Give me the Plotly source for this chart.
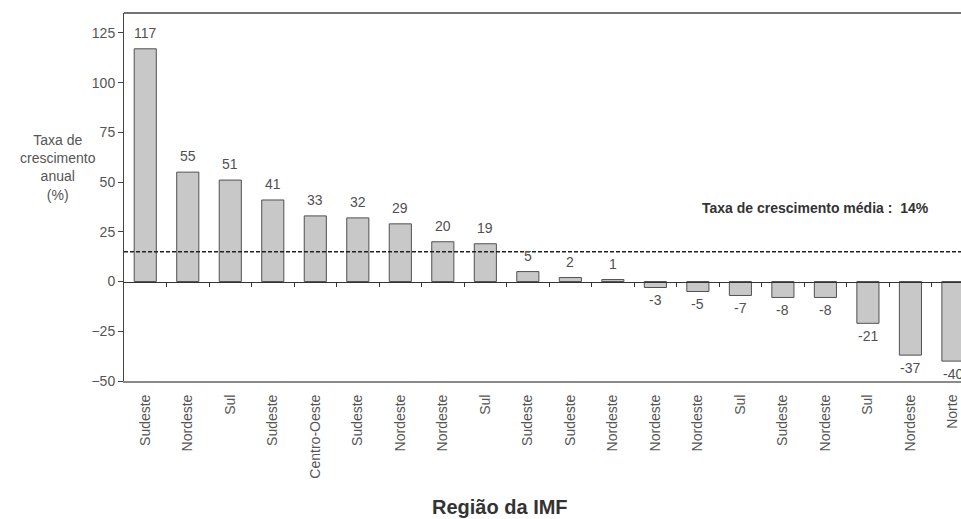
import plotly.graph_objects as go

regions = ["Sudeste", "Nordeste", "Sul", "Sudeste", "Centro-Oeste", "Sudeste", "Nordeste",
           "Nordeste", "Sul", "Sudeste", "Sudeste", "Nordeste", "Nordeste", "Nordeste",
           "Sul", "Sudeste", "Nordeste", "Sul", "Nordeste", "Norte"]
growth = [117, 55, 51, 41, 33, 32, 29, 20, 19, 5, 2, 1, -3, -5, -7, -8, -8, -21, -37, -40]
mean_growth = 14
mean_line_y = 15
y_ticks = [-50, -25, 0, 25, 50, 75, 100, 125]

FONT = "Liberation Sans, Arial, sans-serif"
xs = list(range(len(regions)))
xrange_ = [-0.5, len(regions) - 0.5 - 0.31]

fig = go.Figure()
fig.add_trace(go.Bar(
    x=xs, y=growth,
    marker=dict(color="#c8c8c8", line=dict(color="#505050", width=1)),
    width=0.52, showlegend=False,
))
fig.add_trace(go.Scatter(x=[xrange_[0], xrange_[1]], y=[mean_line_y, mean_line_y],
                         mode="lines", line=dict(color="#222222", width=1.5, dash="4px,2px"),
                         xaxis="x2", showlegend=False, hoverinfo="skip"))

value_labels = [
    dict(x=x, y=v, text=str(v), xref="x", yref="y", showarrow=False,
         xanchor="center", yanchor="middle", yshift=16 if v >= 0 else -12.5,
         font=dict(family=FONT, size=14, color="#505050"))
    for x, v in zip(xs, growth)
]

fig.update_layout(
    width=961, height=519,
    margin=dict(l=124, r=0, t=13, b=138, autoexpand=False),
    plot_bgcolor="white", paper_bgcolor="white",
    font=dict(family=FONT, size=14, color="#555555"),
    xaxis=dict(range=xrange_, tickmode="array", tickvals=xs, ticktext=regions,
               tickangle=-90, showgrid=False, zeroline=False, showline=True,
               linecolor="#8a8a8a", linewidth=2, ticks="", ticklabelstandoff=6,
               automargin=False,
               tickfont=dict(family=FONT, size=14, color="#555555")),
    xaxis2=dict(range=xrange_, overlaying="x", anchor="free", position=50 / 185,
                side="bottom", tickmode="array", tickvals=[i + 0.5 for i in xs[:-1]],
                ticks="outside", ticklen=4, tickcolor="#333333", showticklabels=False,
                automargin=False,
                showline=True, linecolor="#333333", linewidth=1, showgrid=False, zeroline=False),
    yaxis=dict(range=[-50, 135], tickmode="array", tickvals=y_ticks, showgrid=False,
               zeroline=False, showline=True, linecolor="#444444", linewidth=1,
               ticks="outside", ticklen=5, tickcolor="#444444", automargin=False,
               tickfont=dict(family=FONT, size=14, color="#555555")),
    shapes=[dict(type="line", xref="paper", yref="paper", x0=0, x1=1, y0=1, y1=1,
                 line=dict(color="#444444", width=1.5))],
    annotations=value_labels + [
        dict(text="Taxa de<br>crescimento<br>anual<br>(%)", xref="paper", yref="paper",
             x=-124 / 837 + 58 / 837, y=(381 - 167) / 368, xanchor="center", yanchor="middle",
             showarrow=False, align="center",
             font=dict(family=FONT, size=14, color="#555555")),
        dict(text=f"<b>Taxa de crescimento média :  {mean_growth}%</b>", xref="paper", yref="paper",
             x=(815 - 124) / 837, y=(381 - 208) / 368, xanchor="center", yanchor="middle",
             showarrow=False, font=dict(family=FONT, size=14, color="#333333")),
        dict(text="<b>Região da IMF</b>", xref="paper", yref="paper",
             x=(500 - 124) / 837, y=(381 - 507) / 368, xanchor="center", yanchor="middle",
             showarrow=False, font=dict(family=FONT, size=20, color="#333333")),
    ],
)

fig.write_html("out.html", config={"displayModeBar": False},
               post_script="document.body.style.margin='0';document.body.style.overflow='hidden';")
